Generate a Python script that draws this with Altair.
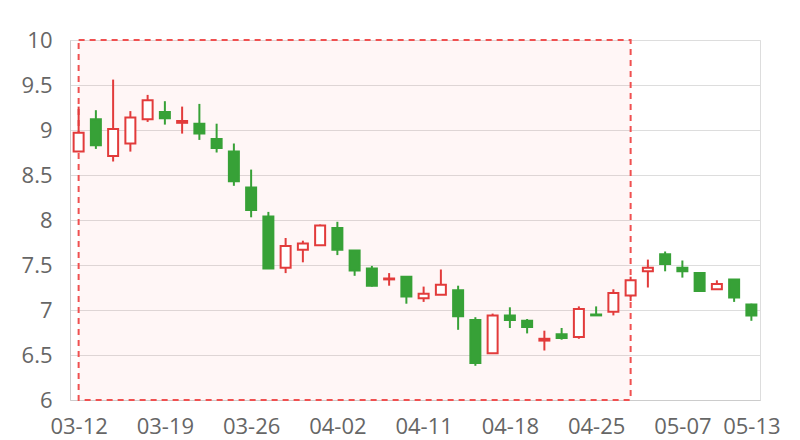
import altair as alt
import pandas as pd

DATES = ["03-12", "03-13", "03-14", "03-15", "03-16", "03-19", "03-20", "03-21", "03-22", "03-23",
         "03-26", "03-27", "03-28", "03-29", "03-30", "04-02", "04-03", "04-04", "04-09", "04-10",
         "04-11", "04-12", "04-13", "04-16", "04-17", "04-18", "04-19", "04-20", "04-23", "04-24",
         "04-25", "04-26", "04-27", "05-02", "05-03", "05-07", "05-08", "05-09", "05-10", "05-13"]
OPEN = [8.76, 9.12, 8.71, 8.85, 9.12, 9.20, 9.08, 9.07, 8.90, 8.76,
        8.36, 8.04, 7.47, 7.67, 7.72, 7.91, 7.66, 7.46, 7.34, 7.37,
        7.13, 7.17, 7.22, 6.89, 6.52, 6.94, 6.88, 6.66, 6.73, 6.70,
        6.95, 6.98, 7.16, 7.43, 7.62, 7.47, 7.41, 7.23, 7.34, 7.06]
CLOSE = [8.97, 8.83, 9.01, 9.14, 9.33, 9.13, 9.10, 8.96, 8.80, 8.43,
         8.11, 7.46, 7.71, 7.74, 7.94, 7.67, 7.44, 7.27, 7.35, 7.15,
         7.18, 7.28, 6.93, 6.41, 6.94, 6.89, 6.81, 6.68, 6.69, 7.01,
         6.94, 7.19, 7.33, 7.47, 7.51, 7.43, 7.21, 7.29, 7.14, 6.94]
LOW = [8.76, 8.79, 8.65, 8.76, 9.09, 9.06, 8.96, 8.89, 8.75, 8.38,
       8.03, 7.46, 7.41, 7.53, 7.72, 7.61, 7.38, 7.26, 7.27, 7.07,
       7.09, 7.17, 6.78, 6.38, 6.52, 6.80, 6.74, 6.55, 6.67, 6.68,
       6.94, 6.94, 7.10, 7.25, 7.43, 7.36, 7.21, 7.23, 7.09, 6.88]
HIGH = [9.26, 9.22, 9.56, 9.21, 9.39, 9.32, 9.26, 9.29, 9.07, 8.85,
        8.56, 8.09, 7.80, 7.77, 7.95, 7.98, 7.66, 7.49, 7.41, 7.37,
        7.26, 7.45, 7.27, 6.92, 6.96, 7.03, 6.90, 6.77, 6.80, 7.04,
        7.04, 7.23, 7.37, 7.56, 7.65, 7.55, 7.41, 7.33, 7.34, 7.07]
LABEL_IDX = [0, 5, 10, 15, 20, 25, 30, 35, 39]
Y_TICKS = [6, 6.5, 7, 7.5, 8, 8.5, 9, 9.5, 10]
HIGHLIGHT = {"start": 0, "end": 32, "top": 10, "bottom": 6}

RED = "#e23b3b"
GREEN = "#37a137"

df = pd.DataFrame({"i": list(range(len(DATES))), "date": DATES,
                   "open": OPEN, "close": CLOSE, "low": LOW, "high": HIGH})
df["dir"] = ["up" if c >= o else "down" for o, c in zip(OPEN, CLOSE)]

hl = pd.DataFrame([{"x": HIGHLIGHT["start"], "x2": HIGHLIGHT["end"],
                    "y": HIGHLIGHT["top"], "y2": HIGHLIGHT["bottom"]}])

date_arr = "[" + ",".join("'" + d + "'" for d in DATES) + "]"
FONT = "Open Sans"

xscale = alt.Scale(domain=[-0.5, len(DATES) - 0.5], nice=False, zero=False, padding=0)
yscale = alt.Scale(domain=[6, 10], nice=False, zero=False, padding=0)

xaxis = alt.Axis(values=LABEL_IDX, labelExpr=date_arr + "[datum.value]", grid=False,
                 ticks=False, domain=True, domainColor="#cccccc", labelColor="#666666",
                 labelFontSize=22, labelFont=FONT, labelPadding=16, title=None,
                 labelOverlap=False, labelFlush=False)
yaxis = alt.Axis(values=Y_TICKS, format=".1~f", grid=True,
                 gridColor="#dddddd", ticks=False, domain=True, domainColor="#cccccc",
                 labelColor="#666666", labelFontSize=22, labelFont=FONT, labelPadding=18,
                 title=None)

band = alt.Chart(hl).mark_rect(fill="#ff0000", fillOpacity=0.035, stroke="#f05050",
                               strokeDash=[6, 5], strokeWidth=2).encode(
    x=alt.X("x:Q", scale=xscale, axis=xaxis),
    x2="x2:Q",
    y=alt.Y("y:Q", scale=yscale, axis=yaxis),
    y2="y2:Q",
)

color = alt.Color("dir:N", scale=alt.Scale(domain=["up", "down"], range=[RED, GREEN]), legend=None)

wick = alt.Chart(df).mark_rule(strokeWidth=2).encode(
    x=alt.X("i:Q", scale=xscale),
    y=alt.Y("low:Q", scale=yscale),
    y2="high:Q",
    color=color,
)

body = alt.Chart(df).mark_bar(size=10, strokeWidth=2).encode(
    x=alt.X("i:Q", scale=xscale),
    y=alt.Y("open:Q", scale=yscale),
    y2="close:Q",
    stroke=alt.Stroke("dir:N", scale=alt.Scale(domain=["up", "down"], range=[RED, GREEN]), legend=None),
    fill=alt.Fill("dir:N", scale=alt.Scale(domain=["up", "down"], range=["#ffffff", GREEN]), legend=None),
)

chart = alt.layer(band, wick, body).properties(
    width=690, height=360,
    autosize=alt.AutoSizeParams(type="none"),
    padding={"left": 62, "top": 32, "right": 30, "bottom": 40},
).configure_view(stroke="#cccccc", strokeWidth=1).configure(background="white")

chart.save("out.html", embed_options={"renderer": "svg", "actions": False})
